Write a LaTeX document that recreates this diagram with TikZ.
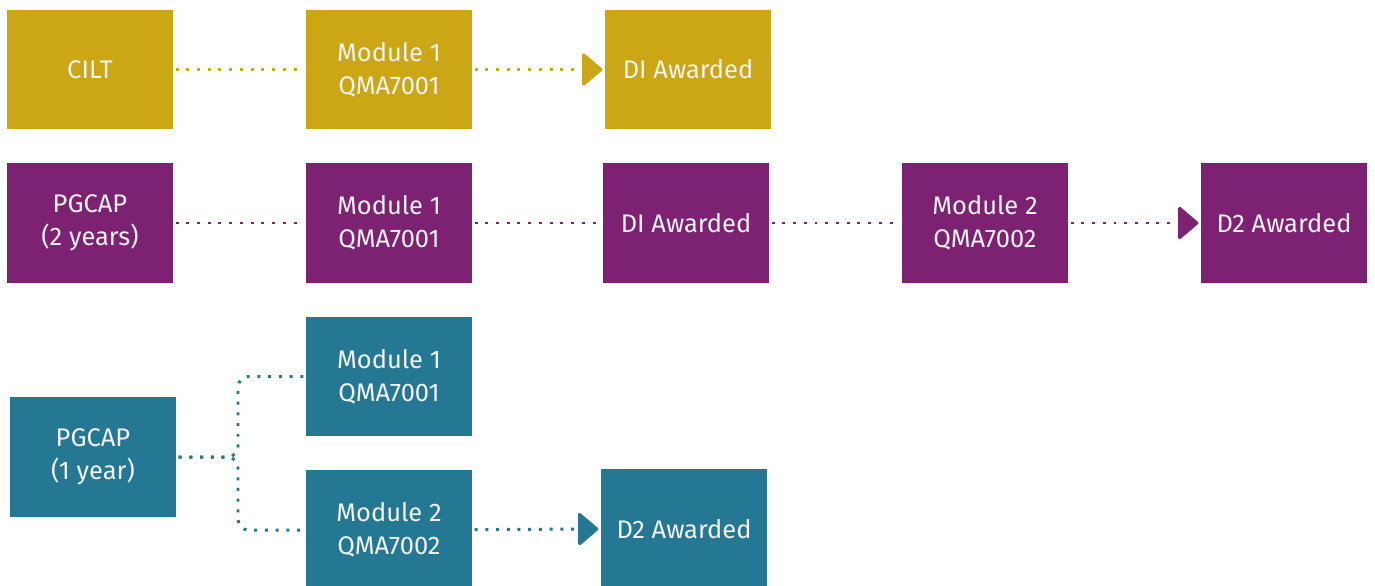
\documentclass[tikz,border=0pt]{standalone}
\usepackage{fontspec}
\setmainfont{Fira Sans}
\usetikzlibrary{arrows.meta, positioning}
\definecolor{ciltgold}{RGB}{203, 167, 22}
\definecolor{pgcappurple}{RGB}{125, 33, 115}
\definecolor{pgcapteal}{RGB}{37, 120, 147}
\definecolor{boxtext}{RGB}{242, 242, 242}

\begin{document}
\begin{tikzpicture}[
    x=0.02cm, y=-0.02cm,
    box/.style={rectangle, minimum width=3.32cm, minimum height=2.4cm, align=center, text=boxtext, font=\fontsize{14.5}{19}\selectfont, inner sep=0pt, outer sep=1.5pt},
    link/.style={line width=1.7pt, dash pattern=on 1.7pt off 4.4pt},
    tip/.style={-{Triangle[round, length=12pt, width=20pt]}}
]
    \useasboundingbox (0,0) rectangle (1375,585);

    % CILT route
    \node[box, fill=ciltgold] (cilt) at (90, 69.5) {CILT};
    \node[box, fill=ciltgold] (ciltm1) at (389, 69.5) {Module 1\\QMA7001};
    \node[box, fill=ciltgold] (ciltdi) at (688, 69.5) {DI Awarded};

    \draw[link, ciltgold] (cilt) -- (ciltm1);
    \draw[link, tip, ciltgold] (ciltm1) -- (ciltdi.west);

    % PGCAP 2 years
    \node[box, fill=pgcappurple] (pgtwo) at (90, 223) {PGCAP\\(2 years)};
    \node[box, fill=pgcappurple] (pgtwom1) at (389, 223) {Module 1\\QMA7001};
    \node[box, fill=pgcappurple] (pgtwodi) at (686, 223) {DI Awarded};
    \node[box, fill=pgcappurple] (pgtwom2) at (985, 223) {Module 2\\QMA7002};
    \node[box, fill=pgcappurple] (pgtwodtwo) at (1284, 223) {D2 Awarded};

    \draw[link, pgcappurple] (pgtwo) -- (pgtwom1);
    \draw[link, pgcappurple] (pgtwom1) -- (pgtwodi);
    \draw[link, pgcappurple] (pgtwodi) -- (pgtwom2);
    \draw[link, tip, pgcappurple] (pgtwom2) -- (pgtwodtwo.west);

    % PGCAP 1 year
    \node[box, fill=pgcapteal] (pgone) at (93, 457) {PGCAP\\(1 year)};
    \node[box, fill=pgcapteal] (pgonem1) at (389, 376.5) {Module 1\\QMA7001};
    \node[box, fill=pgcapteal] (pgonem2) at (389, 530) {Module 2\\QMA7002};
    \node[box, fill=pgcapteal] (pgonedtwo) at (684, 529) {D2 Awarded};

    \coordinate (split) at (238, 455);
    \draw[link, pgcapteal, rounded corners=6pt] (pgone.east) -| (split |- pgonem1.west) -- (pgonem1.west);
    \draw[link, pgcapteal, rounded corners=6pt] (pgone.east) -| (split |- pgonem2.west) -- (pgonem2.west);
    \draw[link, tip, pgcapteal] (pgonem2) -- (pgonedtwo.west);

\end{tikzpicture}
\end{document}
